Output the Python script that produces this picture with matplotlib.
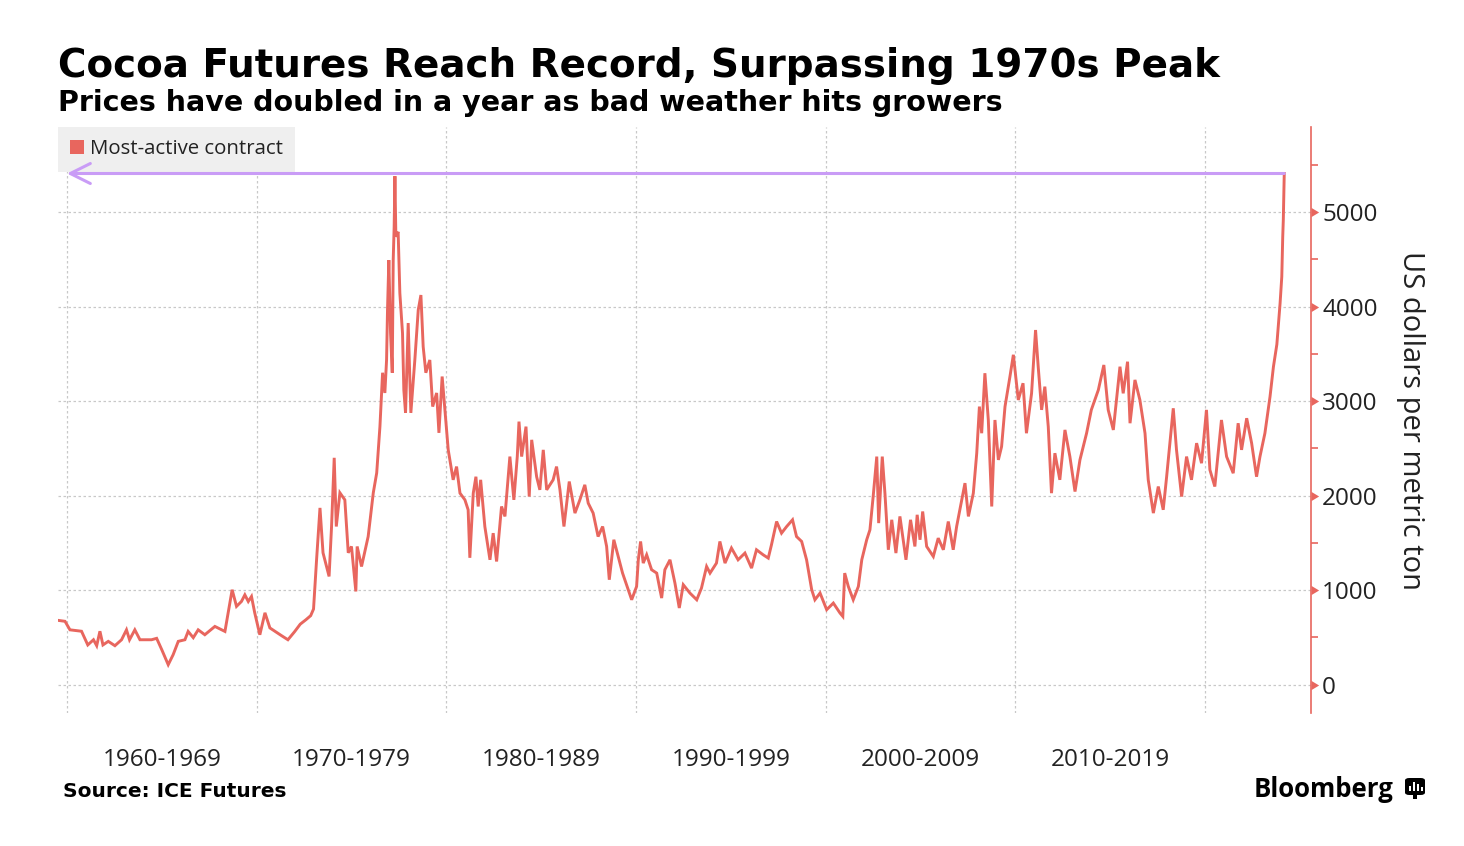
import matplotlib
matplotlib.use("Agg")
import matplotlib.pyplot as plt
from matplotlib.patches import Patch, FancyBboxPatch, Rectangle
from matplotlib.path import Path

# ---------------- data ----------------
years = [
    1959.54, 1959.90, 1960.16, 1960.77, 1961.10, 1961.40, 1961.57, 1961.74, 1961.90, 1962.18,
    1962.53, 1962.88, 1963.14, 1963.30, 1963.58, 1963.85, 1964.46, 1964.73, 1965.00, 1965.34,
    1965.60, 1965.87, 1966.22, 1966.39, 1966.66, 1966.92, 1967.27, 1967.80, 1968.33, 1968.50,
    1968.71, 1968.94, 1969.20, 1969.38, 1969.56, 1969.73, 1969.90, 1970.17, 1970.44, 1970.70,
    1971.00, 1971.30, 1971.65, 1972.00, 1972.30, 1972.60, 1972.85, 1973.00, 1973.16, 1973.34,
    1973.50, 1973.82, 1973.95, 1974.09, 1974.20, 1974.39, 1974.65, 1974.83, 1975.00, 1975.23,
    1975.30, 1975.53, 1975.88, 1976.15, 1976.33, 1976.50, 1976.64, 1976.76, 1976.85, 1976.90,
    1976.97, 1977.06, 1977.15, 1977.20, 1977.25, 1977.29, 1977.34, 1977.46, 1977.55, 1977.69,
    1977.76, 1977.85, 1977.99, 1978.13, 1978.34, 1978.52, 1978.66, 1978.78, 1978.92, 1979.13,
    1979.28, 1979.49, 1979.61, 1979.78, 1979.93, 1980.10, 1980.36, 1980.54, 1980.72, 1980.98,
    1981.15, 1981.24, 1981.42, 1981.56, 1981.68, 1981.81, 1982.03, 1982.30, 1982.47, 1982.65,
    1982.91, 1983.09, 1983.35, 1983.56, 1983.74, 1983.83, 1983.97, 1984.20, 1984.37, 1984.50,
    1984.76, 1984.93, 1985.11, 1985.29, 1985.63, 1985.81, 1985.99, 1986.20, 1986.48, 1986.78,
    1987.04, 1987.30, 1987.48, 1987.74, 1988.00, 1988.24, 1988.45, 1988.59, 1988.83, 1989.06,
    1989.29, 1989.50, 1989.77, 1990.03, 1990.12, 1990.24, 1990.38, 1990.56, 1990.82, 1991.09,
    1991.35, 1991.52, 1991.79, 1992.05, 1992.28, 1992.49, 1992.84, 1993.20, 1993.45, 1993.72,
    1993.90, 1994.24, 1994.42, 1994.69, 1995.03, 1995.38, 1995.74, 1996.09, 1996.35, 1996.70,
    1996.97, 1997.14, 1997.41, 1997.67, 1997.94, 1998.25, 1998.46, 1998.73, 1998.99, 1999.26,
    1999.43, 1999.70, 2000.05, 2000.40, 2000.75, 2000.90, 2001.00, 2001.19, 2001.45, 2001.72,
    2001.90, 2002.16, 2002.33, 2002.50, 2002.69, 2002.79, 2002.98, 2003.12, 2003.30, 2003.48,
    2003.70, 2003.91, 2004.23, 2004.47, 2004.70, 2004.82, 2004.97, 2005.11, 2005.32, 2005.67,
    2005.93, 2006.20, 2006.46, 2006.72, 2006.90, 2007.17, 2007.34, 2007.52, 2007.78, 2007.96,
    2008.10, 2008.22, 2008.39, 2008.57, 2008.75, 2008.92, 2009.10, 2009.27, 2009.45, 2009.71,
    2009.89, 2010.15, 2010.40, 2010.58, 2010.85, 2011.06, 2011.20, 2011.38, 2011.55, 2011.73,
    2011.90, 2012.08, 2012.34, 2012.61, 2012.87, 2013.14, 2013.40, 2013.75, 2014.00, 2014.37,
    2014.66, 2014.89, 2015.16, 2015.51, 2015.68, 2015.91, 2016.04, 2016.30, 2016.56, 2016.83,
    2017.00, 2017.27, 2017.53, 2017.79, 2017.97, 2018.32, 2018.49, 2018.76, 2019.02, 2019.28,
    2019.55, 2019.81, 2020.07, 2020.25, 2020.51, 2020.86, 2021.13, 2021.48, 2021.74, 2021.92,
    2022.19, 2022.45, 2022.71, 2022.89, 2023.15, 2023.42, 2023.60, 2023.78, 2023.95, 2024.04,
    2024.09, 2024.12, 2024.17,
]
prices = [
    680, 670, 580, 565, 420, 475, 412, 565, 420, 458,
    412, 475, 580, 475, 580, 475, 475, 490, 370, 211,
    317, 458, 475, 563, 497, 580, 528, 616, 563, 760,
    1004, 828, 880, 950, 880, 933, 760, 528, 760, 600,
    560, 520, 475, 560, 640, 687, 730, 800, 1321, 1870,
    1395, 1145, 1673, 2400, 1673, 2030, 1955, 1395, 1462, 986,
    1462, 1250, 1567, 2030, 2240, 2730, 3300, 3086, 3435, 3964,
    4492, 3720, 3300, 4492, 4844, 5380, 4739, 4791, 4143, 3720,
    3118, 2875, 3826, 2875, 3435, 3964, 4122, 3576, 3300, 3435,
    2942, 3086, 2664, 3260, 2900, 2484, 2167, 2307, 2026, 1955,
    1850, 1342, 2026, 2200, 1885, 2167, 1673, 1321, 1603, 1303,
    1885, 1780, 2413, 1955, 2413, 2783, 2413, 2730, 1990, 2590,
    2200, 2061, 2484, 2061, 2167, 2307, 2061, 1673, 2149, 1815,
    1955, 2114, 1920, 1815, 1567, 1673, 1462, 1110, 1533, 1356,
    1180, 1057, 898, 1039, 1321, 1515, 1286, 1374, 1216, 1180,
    916, 1216, 1321, 1075, 811, 1057, 969, 898, 1022, 1250,
    1180, 1286, 1515, 1286, 1445, 1321, 1392, 1233, 1427, 1374,
    1339, 1480, 1726, 1603, 1673, 1744, 1567, 1515, 1321, 1004,
    898, 969, 793, 863, 758, 722, 1180, 1039, 898, 1039,
    1321, 1533, 1638, 1990, 2413, 1709, 2413, 2026, 1427, 1744,
    1392, 1780, 1321, 1744, 1462, 1797, 1533, 1832, 1462, 1356,
    1550, 1427, 1726, 1427, 1673, 1955, 2132, 1780, 2026, 2449,
    2942, 2660, 3295, 2800, 1885, 2800, 2378, 2519, 2942, 3259,
    3490, 3012, 3189, 2660, 3082, 3752, 3364, 2907, 3153, 2730,
    2026, 2449, 2167, 2695, 2413, 2043, 2378, 2660, 2907, 3118,
    3382, 2907, 2695, 3364, 3082, 3417, 2766, 3224, 3012, 2660,
    2167, 1815, 2096, 1850, 2200, 2924, 2484, 1990, 2413, 2167,
    2555, 2343, 2907, 2273, 2096, 2800, 2413, 2237, 2766, 2484,
    2819, 2555, 2200, 2413, 2660, 3047, 3364, 3600, 4034, 4316,
    4739, 4915, 5408,
]
decade_lines = [1960, 1970, 1980, 1990, 2000, 2010, 2020]
decade_centers = [1965, 1975, 1985, 1995, 2005, 2015]
decade_labels = ["1960-1969", "1970-1979", "1980-1989", "1990-1999", "2000-2009", "2010-2019"]
y_ticks = [0, 1000, 2000, 3000, 4000, 5000]
y_minor = [500, 1500, 2500, 3500, 4500, 5500]

title = "Cocoa Futures Reach Record, Surpassing 1970s Peak"
subtitle = "Prices have doubled in a year as bad weather hits growers"
series_name = "Most-active contract"
y_label = "US dollars per metric ton"
source = "Source: ICE Futures"

# ---------------- style ----------------
RED = "#e8665e"
PURPLE = "#c99cf6"
GRID = "#c8c8c8"
W, H = 1464, 846

fig = plt.figure(figsize=(W / 100, H / 100), dpi=100)
fig.patch.set_facecolor("white")
ax = fig.add_axes([58 / W, 1 - 713 / H, (1311 - 58) / W, (713 - 127) / H])

ax.plot(years, prices, color=RED, lw=2.1, solid_joinstyle="miter", zorder=3)

ax.set_xlim(1959.53, 2025.58)
ax.set_ylim(-300, 5900)

# arrow from latest price back to the start
ax.annotate("", xy=(decade_lines[0], prices[-1]), xytext=(years[-1], prices[-1]),
            arrowprops=dict(arrowstyle="->,head_length=0.8,head_width=0.4",
                            color=PURPLE, lw=2.2, mutation_scale=18,
                            shrinkA=0, shrinkB=0), zorder=7)

# spines
for s in ["left", "top", "bottom"]:
    ax.spines[s].set_visible(False)
ax.spines["right"].set_color(RED)
ax.spines["right"].set_linewidth(1.2)

# x axis: grid at decades, labels at decade centers
ax.set_xticks(decade_lines)
ax.set_xticklabels([""] * len(decade_lines))
ax.set_xticks(decade_centers, minor=True)
ax.set_xticklabels(decade_labels, minor=True, fontsize=17.5, family="Open Sans", color="#222222")
ax.tick_params(axis="x", which="both", length=0, pad=25)
ax.xaxis.grid(True, which="major", color=GRID, linestyle=(0, (2, 2)), lw=0.9)

# y axis on the right
ax.yaxis.tick_right()
ax.set_yticks(y_ticks)
ax.set_yticklabels([str(v) for v in y_ticks], fontsize=17.5, family="Open Sans", color="#222222")
ax.set_yticks(y_minor, minor=True)
ax.tick_params(axis="y", which="minor", length=5, width=1.2, color=RED, direction="out")
ax.tick_params(axis="y", which="major", length=0, pad=8)
tri = Path([(0, -0.6), (1.0, 0), (0, 0.6), (0, -0.6)],
           [Path.MOVETO, Path.LINETO, Path.LINETO, Path.CLOSEPOLY])
ax.plot([1.0] * len(y_ticks), y_ticks, linestyle="none", marker=tri, markersize=11,
        markerfacecolor=RED, markeredgecolor=RED, markeredgewidth=0,
        transform=ax.get_yaxis_transform(), clip_on=False, zorder=5)
ax.yaxis.grid(True, which="major", color=GRID, linestyle=(0, (2, 2)), lw=0.9)
ax.set_axisbelow(True)

# legend
leg = ax.legend(handles=[Patch(facecolor=RED, edgecolor="none", label=series_name)],
                loc="upper left", bbox_to_anchor=(0, 1), borderaxespad=0,
                frameon=True, fancybox=False, handlelength=0.65, handleheight=0.65,
                handletextpad=0.3, borderpad=0.6,
                prop={"family": "Open Sans", "size": 14.7})
leg.get_frame().set_facecolor("#efefef")
leg.get_frame().set_edgecolor("none")
leg.get_frame().set_alpha(1)
leg.set_zorder(6)
for txt in leg.get_texts():
    txt.set_color("#222222")

# texts
fig.text(58 / W, 1 - 77 / H, title, fontsize=28, fontweight="bold",
         family="DejaVu Sans", color="black", va="baseline", ha="left")
fig.text(58 / W, 1 - 111 / H, subtitle, fontsize=20.5, fontweight="bold",
         family="DejaVu Sans", color="black", va="baseline", ha="left")
fig.text(63 / W, 1 - 797 / H, source, fontsize=14.5, fontweight="bold",
         family="DejaVu Sans", color="black", va="baseline", ha="left")
fig.text(1411 / W, 1 - 420 / H, y_label, fontsize=21, family="Open Sans",
         color="#222222", rotation=270, va="center", ha="center")
fig.text(1393 / W, 1 - 797 / H, "Bloomberg", fontsize=18.5, fontweight="bold",
         family="Open Sans", color="black", va="baseline", ha="right")

# Bloomberg icon
ix0, iy0, iw, ih = 1405, 778, 20, 17
fig.add_artist(FancyBboxPatch((ix0 / W, 1 - (iy0 + ih) / H), iw / W, ih / H,
                              boxstyle="round,pad=0,rounding_size=0.003",
                              transform=fig.transFigure, facecolor="black", edgecolor="none"))
for bx, bh in [(1409, 5), (1413, 9), (1417, 7), (1421, 4)]:
    fig.add_artist(Rectangle((bx / W, 1 - (iy0 + 13) / H), 2 / W, bh / H,
                             transform=fig.transFigure, facecolor="white", edgecolor="none"))
fig.add_artist(Rectangle((1413 / W, 1 - (iy0 + ih + 4) / H), 4 / W, 4 / H,
                         transform=fig.transFigure, facecolor="black", edgecolor="none"))

fig.savefig("out.png", dpi=100, facecolor="white")
